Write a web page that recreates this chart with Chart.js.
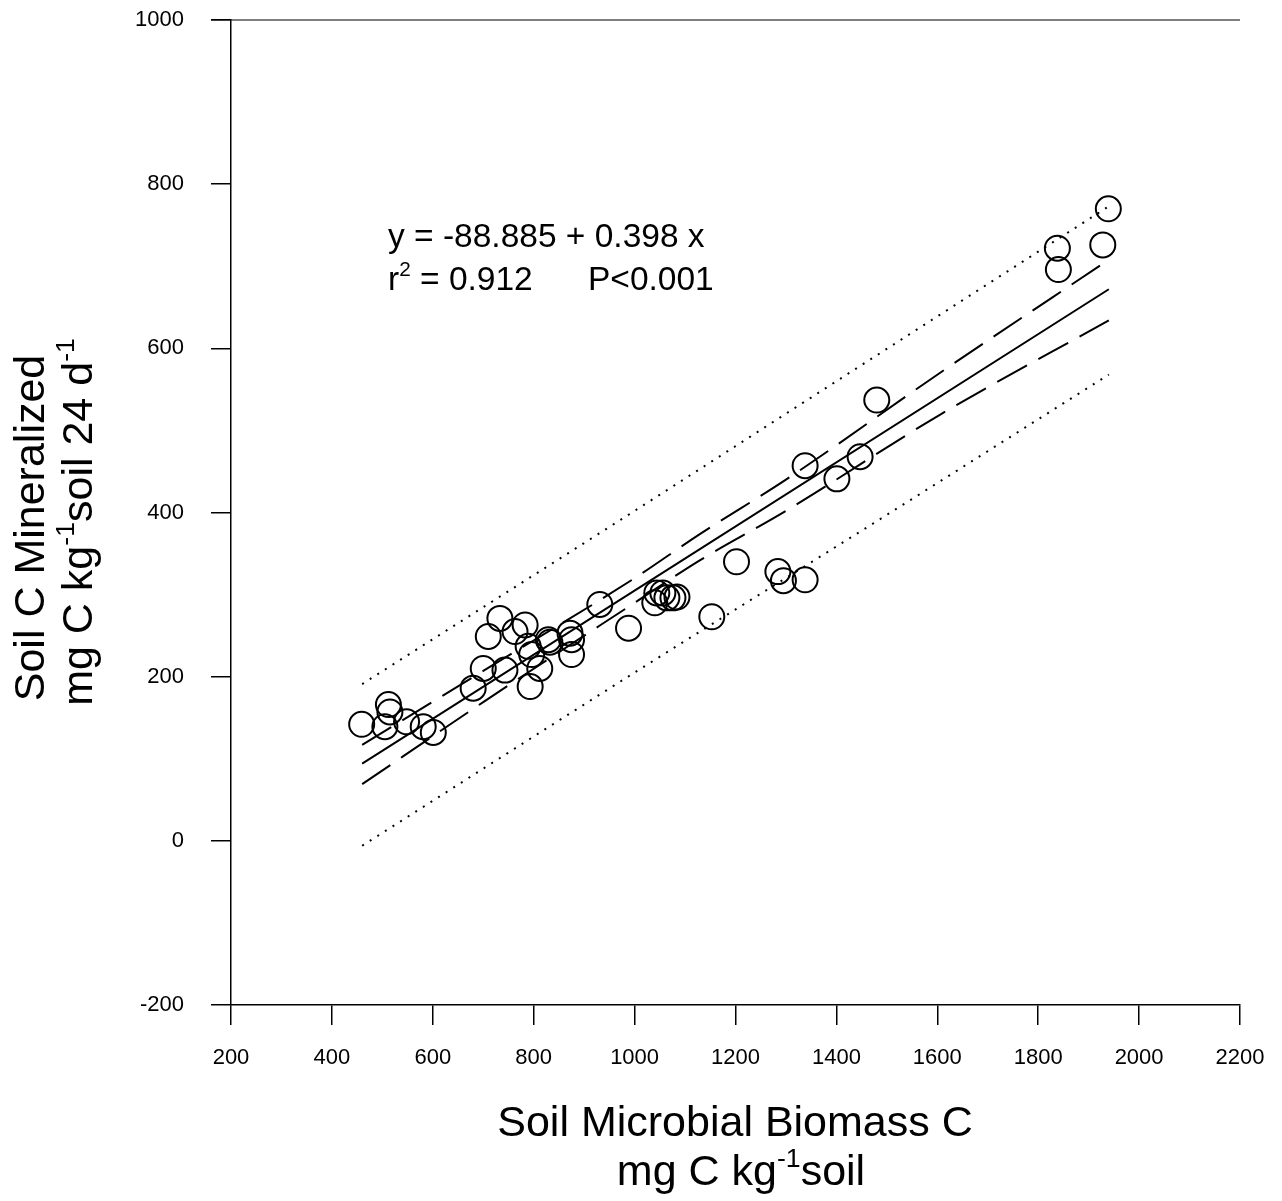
<!DOCTYPE html>
<html>
<head>
<meta charset="utf-8">
<script src="https://cdn.jsdelivr.net/npm/chart.js@4/dist/chart.umd.min.js"></script>
<style>
  html, body { margin: 0; padding: 0; background: #fff; }
  canvas { display: block; }
</style>
</head>
<body>
<canvas id="chart" width="1282" height="1201"></canvas>
<script>
// Observed points: soil microbial biomass C vs soil C mineralized
const biomassC = [459, 512, 515, 505, 548, 581, 601, 680, 700, 743, 710, 733, 763, 783, 789, 796, 812, 793, 829, 832, 872, 875, 875, 931, 988, 1044, 1040, 1056, 1064, 1076, 1084, 1153, 1202, 1284, 1295, 1338, 1338, 1401, 1447, 1480, 1838, 1840, 1928, 1939];
const mineralizedC = [142, 166, 157, 139, 145, 139, 132, 186, 210, 208, 249, 271, 255, 263, 237, 227, 210, 188, 245, 242, 253, 245, 227, 288, 259, 302, 290, 302, 296, 296, 297, 273, 340, 328, 317, 318, 457, 441, 468, 537, 722, 696, 726, 770];

// Regression line
const fitX = [460, 1940];
const fitY = [94, 672];

// 95% confidence band (dashed)
const ciX = [460, 700, 1000, 1130, 1300, 1605, 1940];
const ciUpper = [117, 207, 320, 374, 440, 570, 708];
const ciLower = [69, 169, 290, 342, 402, 519, 634];

// 95% prediction band (dotted)
const piX = [460, 1000, 1466, 1940];
const piUpper = [191, 402, 586, 773];
const piLower = [-6, 205, 384, 568];

const FONT = '"Liberation Sans", Arial, Helvetica, sans-serif';

function pairs(xs, ys) {
  return xs.map((x, i) => ({ x: x, y: ys[i] }));
}

function lineSet(xs, ys, dash) {
  return {
    data: pairs(xs, ys),
    showLine: true,
    borderColor: '#000',
    borderWidth: 2,
    borderDash: dash,
    pointRadius: 0,
    fill: false,
    cubicInterpolationMode: 'monotone',
  };
}

// draws text made of pieces, some of them superscript
function richText(ctx, parts, x, y, size, align) {
  const widths = parts.map((p) => {
    ctx.font = (p.sup ? size * 0.62 : size) + 'px ' + FONT;
    return ctx.measureText(p.t).width;
  });
  const total = widths.reduce((a, b) => a + b, 0);
  let cx = align === 'center' ? x - total / 2 : x;
  ctx.textAlign = 'left';
  ctx.textBaseline = 'alphabetic';
  parts.forEach((p, i) => {
    ctx.font = (p.sup ? size * 0.62 : size) + 'px ' + FONT;
    ctx.fillText(p.t, cx, p.sup ? y - size * 0.42 : y);
    cx += widths[i];
  });
}

const textPlugin = {
  id: 'texts',
  afterDraw(chart) {
    const ctx = chart.ctx;
    const area = chart.chartArea;
    ctx.save();
    ctx.fillStyle = '#000';

    // top frame line
    ctx.strokeStyle = '#000';
    ctx.lineWidth = 1.2;
    ctx.beginPath();
    ctx.moveTo(area.left - 20, area.top);
    ctx.lineTo(area.right, area.top);
    ctx.stroke();

    // x axis title
    richText(ctx, [{ t: 'Soil Microbial Biomass C' }], 735, 1136, 43, 'center');
    richText(ctx, [{ t: 'mg C kg' }, { t: '-1', sup: true }, { t: 'soil' }], 741, 1185, 43, 'center');

    // y axis title
    ctx.save();
    ctx.translate(44, 528);
    ctx.rotate(-Math.PI / 2);
    richText(ctx, [{ t: 'Soil C Mineralized' }], 0, 0, 43, 'center');
    ctx.restore();
    ctx.save();
    ctx.translate(92, 522);
    ctx.rotate(-Math.PI / 2);
    richText(ctx, [{ t: 'mg C kg' }, { t: '-1', sup: true }, { t: 'soil 24 d' }, { t: '-1', sup: true }], 0, 0, 43, 'center');
    ctx.restore();

    // regression annotation
    richText(ctx, [{ t: 'y = -88.885 + 0.398 x' }], 388, 247, 33.5, 'left');
    richText(ctx, [{ t: 'r' }, { t: '2', sup: true }, { t: ' = 0.912' }], 388, 290, 33.5, 'left');
    richText(ctx, [{ t: 'P<0.001' }], 588, 290, 33.5, 'left');

    ctx.restore();
  },
};

const axisCommon = {
  type: 'linear',
  grid: {
    display: true,
    drawOnChartArea: false,
    drawTicks: true,
    tickLength: 20,
    color: '#000',
    lineWidth: 1.5,
  },
  border: { display: true, color: '#000', width: 1.5 },
};

new Chart(document.getElementById('chart'), {
  type: 'scatter',
  data: {
    datasets: [
      {
        data: pairs(biomassC, mineralizedC),
        pointStyle: 'circle',
        pointRadius: 12.5,
        pointBorderWidth: 2,
        pointBorderColor: '#000',
        pointBackgroundColor: 'rgba(0,0,0,0)',
        showLine: false,
      },
      lineSet(fitX, fitY, []),
      lineSet(ciX, ciUpper, [34, 13]),
      lineSet(ciX, ciLower, [34, 13]),
      lineSet(piX, piUpper, [2, 7]),
      lineSet(piX, piLower, [2, 7]),
    ],
  },
  options: {
    responsive: false,
    animation: false,
    layout: { padding: { top: 20, right: 42, left: 0, bottom: 0 } },
    plugins: {
      legend: { display: false },
      tooltip: { enabled: false },
    },
    scales: {
      x: {
        ...axisCommon,
        min: 200,
        max: 2200,
        afterFit: (s) => {
          s.height = 196;
          s.paddingLeft = 0;
          s.paddingRight = 0;
        },
        ticks: {
          stepSize: 200,
          padding: 20,
          color: '#000',
          maxRotation: 0,
          autoSkip: false,
          font: { family: FONT, size: 22 },
          callback: (v) => String(v),
        },
      },
      y: {
        ...axisCommon,
        min: -200,
        max: 1000,
        afterFit: (s) => {
          s.width = 231;
          s.paddingTop = 0;
          s.paddingBottom = 0;
        },
        ticks: {
          stepSize: 200,
          padding: 27,
          color: '#000',
          autoSkip: false,
          font: { family: FONT, size: 22 },
          callback: (v) => String(v),
        },
      },
    },
  },
  plugins: [textPlugin],
});
</script>
</body>
</html>
